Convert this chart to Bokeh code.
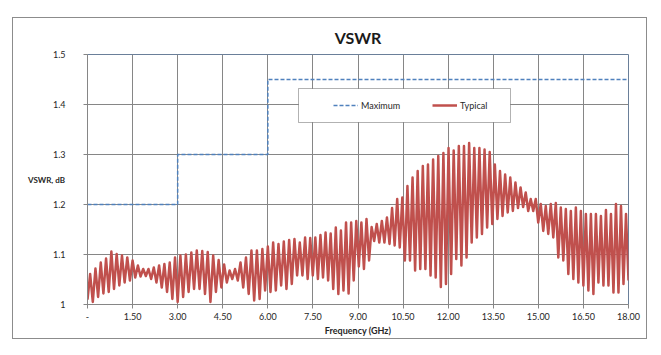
import numpy as np
from bokeh.plotting import figure
from bokeh.models import FixedTicker, Legend, LegendItem, BoxAnnotation, Range1d
from bokeh.embed import file_html
from bokeh.resources import INLINE

# ---------------- data ----------------
x_ticks = [0.0, 1.5, 3.0, 4.5, 6.0, 7.5, 9.0, 10.5, 12.0, 13.5, 15.0, 16.5, 18.0]
x_tick_labels = ["-", "1.50", "3.00", "4.50", "6.00", "7.50", "9.00", "10.50",
                 "12.00", "13.50", "15.00", "16.50", "18.00"]
y_ticks = [1.0, 1.1, 1.2, 1.3, 1.4, 1.5]
y_tick_labels = ["1", "1.1", "1.2", "1.3", "1.4", "1.5"]

# Maximum specification (step)
max_freq_ghz = [0.0, 3.0, 6.0, 18.0]
max_vswr = [1.20, 1.30, 1.45, 1.45]

# Typical measured VSWR: successive troughs/peaks read from the picture,
# grouped by frequency span (span edges in GHz)
seg_edges_ghz = [0.0, 3.0, 6.0, 7.24, 10.9, 14.58, 18.0]

typ_0_3 = [1.010, 1.061, 1.005, 1.072, 1.015, 1.084, 1.022, 1.092, 1.025, 1.106,
           1.031, 1.101, 1.038, 1.098, 1.044, 1.094, 1.048, 1.088, 1.054, 1.078,
           1.056, 1.071, 1.057, 1.071, 1.051, 1.074, 1.044, 1.078, 1.034, 1.081,
           1.025, 1.084, 1.011, 1.094, 1.005]
typ_3_6 = [1.098, 1.015, 1.100, 1.025, 1.104, 1.031, 1.108, 1.031, 1.107, 1.021,
           1.105, 1.005, 1.098, 1.025, 1.089, 1.034, 1.080, 1.044, 1.068, 1.051,
           1.071, 1.048, 1.084, 1.034, 1.094, 1.021, 1.108, 1.008, 1.108, 1.011,
           1.111, 1.028, 1.116]
typ_6_7 = [1.025, 1.124, 1.028, 1.121, 1.038, 1.126, 1.031, 1.129, 1.041, 1.131,
           1.058, 1.124, 1.058, 1.134]
typ_7_11 = [1.051, 1.133, 1.058, 1.134, 1.051, 1.139, 1.054, 1.144, 1.048, 1.142,
            1.031, 1.154, 1.021, 1.148, 1.028, 1.164, 1.022, 1.164, 1.048, 1.167,
            1.076, 1.164, 1.071, 1.171, 1.088, 1.155, 1.127, 1.161, 1.124, 1.167,
            1.124, 1.174, 1.121, 1.193, 1.118, 1.211, 1.114, 1.214, 1.088, 1.237,
            1.088, 1.254, 1.068]
typ_11_15 = [1.267, 1.071, 1.277, 1.071, 1.280, 1.058, 1.290, 1.054, 1.297, 1.035,
             1.303, 1.041, 1.313, 1.061, 1.308, 1.091, 1.317, 1.078, 1.317, 1.094,
             1.323, 1.124, 1.313, 1.134, 1.313, 1.141, 1.310, 1.154, 1.305, 1.161,
             1.280, 1.171, 1.267, 1.177, 1.260, 1.184, 1.254, 1.187, 1.244, 1.193,
             1.234, 1.195, 1.224]
typ_15_18 = [1.187, 1.211, 1.187, 1.211, 1.164, 1.201, 1.147, 1.197, 1.141, 1.201,
             1.134, 1.203, 1.094, 1.194, 1.088, 1.191, 1.061, 1.187, 1.051, 1.194,
             1.044, 1.187, 1.038, 1.181, 1.028, 1.181, 1.021, 1.181, 1.044, 1.177,
             1.038, 1.189, 1.038, 1.181, 1.024, 1.201, 1.024, 1.197, 1.041, 1.181,
             1.048]

typ_segments = [typ_0_3, typ_3_6, typ_6_7, typ_7_11, typ_11_15, typ_15_18]

typ_freq, typ_vswr = [], []
for i, seg in enumerate(typ_segments):
    lo, hi = seg_edges_ghz[i], seg_edges_ghz[i + 1]
    if i == 0:
        f = np.linspace(lo, hi, len(seg))
    else:
        f = np.linspace(lo, hi, len(seg) + 1)[1:]
    typ_freq.extend(f.tolist())
    typ_vswr.extend(seg)

# ---------------- figure ----------------
FONT = "Lato"
TXT = "#262626"
GRID = "#868686"

p = figure(width=635, height=322,
           x_range=Range1d(0, 18), y_range=Range1d(1.0, 1.5),
           output_backend="svg", toolbar_location=None,
           min_border_left=74, min_border_right=20,
           min_border_top=35, min_border_bottom=36,
           title="VSWR")
p.margin = (17, 0, 0, 12)
p.styles = {"border": "1px solid #8c8c8c"}
p.background_fill_color = "white"
p.border_fill_color = "white"
p.outline_line_color = "#6a7f99"

p.title.align = "center"
p.title.text_font = FONT
p.title.text_font_size = "16px"
p.title.text_font_style = "bold"
p.title.text_color = "#1a1a1a"
p.title.standoff = 15

xt = FixedTicker(ticks=x_ticks)
yt = FixedTicker(ticks=y_ticks)
p.xaxis.ticker = xt
p.yaxis.ticker = yt
p.xgrid.ticker = xt
p.ygrid.ticker = yt
p.xaxis.major_label_overrides = {t: l for t, l in zip(x_ticks, x_tick_labels)}
p.yaxis.major_label_overrides = {t: l for t, l in zip(y_ticks, y_tick_labels)}

for ax in (p.xaxis[0], p.yaxis[0]):
    ax.axis_line_color = GRID
    ax.major_tick_line_color = GRID
    ax.major_tick_in = 0
    ax.major_tick_out = 4
    ax.minor_tick_line_color = None
    ax.major_label_text_font = FONT
    ax.major_label_text_font_size = "9px"
    ax.major_label_text_color = TXT
    ax.axis_label_text_font = FONT
    ax.axis_label_text_font_size = "9px"
    ax.axis_label_text_font_style = "bold"
    ax.axis_label_text_color = TXT

p.xaxis.axis_label = "Frequency (GHz)"
p.xaxis.major_label_standoff = 4
p.xaxis.axis_label_standoff = 2
p.yaxis.axis_label = "VSWR, dB"
p.yaxis.axis_label_text_font_size = "8px"
p.yaxis.axis_label_orientation = "horizontal"
p.yaxis.major_label_standoff = 18
p.yaxis.axis_label_standoff = -15

p.grid.grid_line_color = GRID
p.grid.grid_line_width = 1

typ_r = p.line(typ_freq, typ_vswr, line_color="#C0504D", line_width=2.5,
               line_join="round")
max_r = p.step(max_freq_ghz, max_vswr, mode="after", line_color="#4F81BD",
               line_width=1.5, line_dash="4 2")

box = BoxAnnotation(left=211, right=423, bottom=182, top=216,
                    left_units="screen", right_units="screen",
                    bottom_units="screen", top_units="screen",
                    fill_color="white", fill_alpha=1.0,
                    line_color="black", line_width=1)
p.add_layout(box)

legend = Legend(items=[LegendItem(label="Maximum", renderers=[max_r]),
                       LegendItem(label="Typical", renderers=[typ_r])],
                orientation="horizontal", location=(246, 192),
                padding=0, margin=0, glyph_width=25, glyph_height=14,
                label_standoff=3, label_width=50, spacing=21,
                border_line_color=None, background_fill_alpha=0,
                label_text_font=FONT, label_text_font_size="9px",
                label_text_color=TXT)
p.add_layout(legend)

open("out.html", "w").write(file_html(p, INLINE))
